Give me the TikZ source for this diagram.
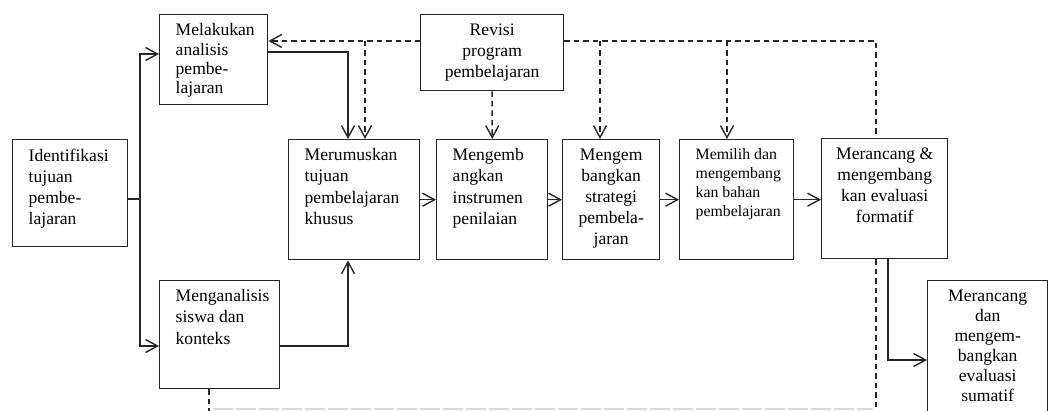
\documentclass[tikz,border=0pt]{standalone}
\usepackage{fontspec}
\setmainfont{Liberation Serif}
\usetikzlibrary{arrows.meta}
\newcommand{\isikiri}[3]{\parbox[c][#1][t]{#2}{\raggedright\leftskip=0.16cm\fontsize{10pt}{12pt}\selectfont #3}}
\newcommand{\isitengah}[3]{\parbox[c][#1][t]{#2}{\centering\fontsize{10pt}{12pt}\selectfont #3}}

\begin{document}
\begin{tikzpicture}[x=0.02cm, y=-0.02cm,
  kotak/.style={draw=black!85, line width=0.8pt, anchor=north west, inner xsep=0.16cm, inner ysep=0.18cm},
  garis/.style={draw=black!85, line width=0.8pt},
  alur/.style={garis, -{Straight Barb[length=2.4mm,width=2.6mm]}},
  putus/.style={garis, dash pattern=on 1.1mm off 0.8mm},
  putus alur/.style={putus, -{Straight Barb[length=2.4mm,width=2.6mm]}}]
\useasboundingbox (0,0) rectangle (1048,411);
\clip (0,0) rectangle (1048,411);

% kotak-kotak
\node[kotak] (ident) at (12,139) {\isikiri{1.78cm}{1.98cm}{Identifikasi\\ tujuan\\ pembe-\\ lajaran}};
\node[kotak] (melak) at (159,14) {\isikiri{1.44cm}{1.84cm}{\fontsize{10pt}{11pt}\selectfont Melakukan\\ analisis\\ pembe-\\ lajaran}};
\node[kotak] (analis) at (159,280) {\isikiri{1.80cm}{2.08cm}{Menganalisis\\ siswa dan\\ konteks}};
\node[kotak] (rumus) at (288,139) {\isikiri{2.04cm}{2.30cm}{Merumuskan\\ tujuan\\ pembelajaran\\ khusus}};
\node[kotak] (instr) at (436,139) {\isikiri{2.04cm}{1.90cm}{Mengemb\\ angkan\\ instrumen\\ penilaian}};
\node[kotak] (strat) at (562,139) {\isitengah{2.04cm}{1.62cm}{Mengem\\ bangkan\\ strategi\\ pembela-\\ jaran}};
\node[kotak] (pilih) at (679,139) {\isikiri{2.04cm}{1.96cm}{\fontsize{9pt}{10.8pt}\selectfont Memilih dan\\ mengembang\\ kan bahan\\ pembelajaran}};
\node[kotak] (formatif) at (821,138) {\isitengah{2.04cm}{2.20cm}{Merancang \&\\ mengembang\\ kan evaluasi\\ formatif}};
\node[kotak] (sumatif) at (927,280) {\isitengah{2.64cm}{2.08cm}{\fontsize{10pt}{11.4pt}\selectfont Merancang\\ dan\\ mengem-\\ bangkan\\ evaluasi\\ sumatif}};
\node[kotak] (revisi) at (420,14) {\isitengah{1.16cm}{2.54cm}{Revisi\\ program\\ pembelajaran}};

% alur utama
\coordinate (cabang) at (140,199);
\draw[garis] (ident.east |- cabang) -- (cabang);
\draw[alur] (cabang) |- (melak.west |- 0,54);
\draw[alur] (cabang) |- (analis.west |- 0,346);
\draw[alur] (melak.east |- 0,52) -| (rumus.north -| 348,0);
\draw[alur] (analis.east |- 0,346) -| (rumus.south -| 348,0);
\draw[alur] (rumus.east) -- (instr.west);
\draw[alur] (instr.east) -- (strat.west);
\draw[alur] (strat.east) -- (pilih.west);
\draw[alur] (pilih.east) -- (formatif.west |- pilih.east);
\draw[alur] (formatif.south -| 888,0) |- (sumatif.west |- 0,360);

% alur revisi
\draw[putus alur] (revisi.west |- 0,41) -- (melak.east |- 0,41);
\draw[putus alur] (365,41) -- (rumus.north -| 365,0);
\draw[putus alur] (revisi.south) -- (instr.north);
\draw[putus] (revisi.east |- 0,41) -| (formatif.north -| 876,0);
\draw[putus alur] (600,41) -- (strat.north -| 600,0);
\draw[putus alur] (727,41) -- (pilih.north -| 727,0);
\draw[putus] (formatif.south -| 876,0) -- (876,411);
\draw[putus] (analis.south -| 209,0) -- (209,411);
\draw[gray!30, line width=0.6pt, dash pattern=on 4mm off 0.6mm] (213,409) -- (873,409);
\end{tikzpicture}
\end{document}
